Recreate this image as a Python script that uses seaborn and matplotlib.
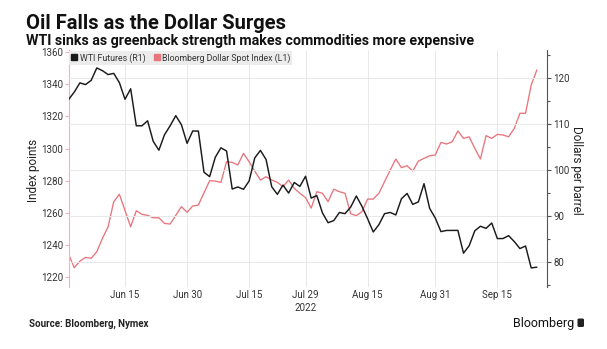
import numpy as np
import pandas as pd
import matplotlib
matplotlib.use("Agg")
import matplotlib.pyplot as plt
import matplotlib.transforms as mtransforms
from matplotlib.lines import Line2D
from matplotlib.patches import FancyBboxPatch
import seaborn as sns

# ---------------- data ----------------
dates = pd.bdate_range("2022-06-01", "2022-09-26")  # weekday axis (84 points)

wti = [115.26, 116.87, 118.87, 118.50, 119.41, 122.11, 121.51, 120.67, 120.93, 118.93,
       115.31, 117.59, 109.56, 109.56, 110.65, 106.19, 104.27, 107.62, 109.57, 111.76,
       109.78, 105.76, 108.43, 108.43, 99.50, 98.53, 102.73, 104.79, 104.09, 95.84,
       96.30, 95.78, 97.59, 102.60, 104.22, 102.26, 96.35, 94.70, 96.70, 94.98,
       97.26, 96.42, 98.62, 93.89, 94.42, 90.66, 88.54, 89.01, 90.76, 90.50,
       91.93, 94.34, 92.09, 89.41, 86.53, 88.11, 90.50, 90.77, 90.23, 93.74,
       94.89, 92.52, 93.06, 97.01, 91.64, 89.55, 86.61, 86.87, 86.87, 86.88,
       81.94, 83.54, 86.79, 87.78, 87.31, 88.48, 85.10, 85.11, 85.73, 84.45,
       82.94, 83.49, 78.74, 78.90]

bbdxy = [1234.3, 1226.0, 1230.1, 1232.4, 1231.8, 1235.9, 1244.2, 1251.4, 1267.0, 1271.6,
         1261.5, 1251.4, 1261.4, 1259.1, 1258.5, 1257.0, 1257.0, 1253.5, 1253.1, 1258.5,
         1263.9, 1260.4, 1264.3, 1264.9, 1272.5, 1280.0, 1279.8, 1279.0, 1291.8, 1291.4,
         1289.8, 1297.0, 1291.8, 1286.0, 1280.4, 1282.5, 1280.5, 1279.0, 1276.3, 1280.4,
         1275.3, 1272.2, 1269.5, 1263.0, 1273.2, 1272.2, 1267.0, 1274.8, 1273.2, 1272.2,
         1259.5, 1258.3, 1260.8, 1268.6, 1268.6, 1272.2, 1279.4, 1286.6, 1293.5, 1288.1,
         1289.3, 1286.0, 1292.2, 1293.9, 1295.5, 1296.0, 1303.8, 1302.8, 1304.2, 1310.9,
         1306.3, 1307.3, 1300.1, 1293.5, 1308.0, 1306.3, 1308.8, 1308.4, 1307.3, 1312.5,
         1321.9, 1321.9, 1339.4, 1348.8]

tick_dates = ["2022-06-15", "2022-06-30", "2022-07-15", "2022-07-29",
              "2022-08-15", "2022-08-31", "2022-09-15"]
tick_labels = ["Jun 15", "Jun 30", "Jul 15", "Jul 29", "Aug 15", "Aug 31", "Sep 15"]
left_ticks = [1220, 1240, 1260, 1280, 1300, 1320, 1340, 1360]
right_ticks = [80, 90, 100, 110, 120]
right_minor = [75, 85, 95, 105, 115, 125]
series_names = ["WTI Futures (R1)", "Bloomberg Dollar Spot Index (L1)"]

# ---------------- style ----------------
RED = "#e8747c"
BLACK = "#1a1a1a"
PINK = "#f0b4b8"
GRID = "#e8e8e8"
TXT = "#333333"

sns.set_theme(style="white")
plt.rcParams["font.family"] = ["Roboto", "DejaVu Sans"]

W, H = 607, 349
fig = plt.figure(figsize=(W / 100, H / 100), dpi=100)
fig.patch.set_facecolor("white")

L, R, T, B = 68.6, 547, 50, 287
ax = fig.add_axes([L / W, 1 - B / H, (R - L) / W, (B - T) / H])

df = pd.DataFrame({"pos": np.arange(len(dates)), "date": dates,
                   "wti": wti, "bbdxy": bbdxy})

sns.lineplot(data=df, x="pos", y="bbdxy", ax=ax, color=RED, lw=0.95)
ax2 = ax.twinx()
sns.lineplot(data=df, x="pos", y="wti", ax=ax2, color=BLACK, lw=1.05)

ax.set_xlim(0, 84.8)
ax.set_ylim(1214, 1361.2)
ax2.set_ylim(74.6, 126.0)

xt = [dates.get_loc(pd.Timestamp(d)) for d in tick_dates]
ax.set_xticks(xt)
ax.set_xticklabels(tick_labels)
ax.tick_params(axis="x", length=0, pad=2.5, labelsize=7, labelcolor=TXT)
ax.xaxis.grid(True, color=GRID, lw=0.7)
ax.yaxis.grid(False)
ax.set_xlabel("")
ax.set_ylabel("")
ax2.set_ylabel("")

ax.set_yticks(left_ticks)
ax.tick_params(axis="y", length=3, width=0.8, color=PINK, labelsize=7,
               labelcolor=TXT, pad=1, left=True)

ax2.set_yticks(right_ticks)
ax2.set_yticks(right_minor, minor=True)
ax2.tick_params(axis="y", which="major", length=3, width=0.8, color="#555555",
                labelsize=7, labelcolor=TXT, pad=1.5, right=True)
ax2.tick_params(axis="y", which="minor", length=2, width=0.8, color="#555555", right=True)
ax2.yaxis.grid(True, color=GRID, lw=0.7)
ax2.xaxis.grid(False)

for s in ["top", "right", "bottom"]:
    ax.spines[s].set_visible(False)
ax.spines["left"].set_color(PINK)
ax.spines["left"].set_linewidth(0.8)
for s in ["top", "left", "bottom"]:
    ax2.spines[s].set_visible(False)
ax2.spines["right"].set_color("#555555")
ax2.spines["right"].set_linewidth(0.8)

# legend
handles = [Line2D([0], [0], marker="s", ls="", color=BLACK, markersize=4),
           Line2D([0], [0], marker="s", ls="", color=RED, markersize=4)]
leg = ax2.legend(handles, series_names, loc="upper left", bbox_to_anchor=(0.0, 1.0),
                 ncol=2, frameon=True, fancybox=False, facecolor="#ececec",
                 edgecolor="none", framealpha=1, fontsize=6.3, handlelength=0.6,
                 handletextpad=0.3, columnspacing=1.0, borderpad=0.25,
                 borderaxespad=0.1, labelcolor=TXT)
leg.set_zorder(1)

# year label
trans = mtransforms.blended_transform_factory(ax.transData, ax.transAxes)
ax.text(xt[3], -0.088, "2022", transform=trans, ha="center", va="center",
        fontsize=7, color=TXT)

# axis titles
fig.text(33 / W, 1 - 170 / H, "Index points", rotation=90, ha="center", va="center",
         fontsize=8.5, color="#222222")
fig.text(577 / W, 1 - 170 / H, "Dollars per barrel", rotation=270, ha="center",
         va="center", fontsize=8.5, color="#222222")

# titles
fig.text(26 / W, 1 - 29 / H, "Oil Falls as the Dollar Surges", fontsize=14.5,
         fontweight="bold", ha="left", va="baseline", color="#111111")
fig.text(26 / W, 1 - 45 / H,
         "WTI sinks as greenback strength makes commodities more expensive",
         fontsize=10.3, fontweight="bold", ha="left", va="baseline", color="#111111")

# footer
fig.text(29 / W, 1 - 327 / H, "Source: Bloomberg, Nymex", fontsize=7,
         fontweight="bold", ha="left", va="baseline", color="#222222")
fig.text(574 / W, 1 - 327 / H, "Bloomberg", fontsize=9, ha="right", va="baseline",
         color="#111111")
fig.patches.append(FancyBboxPatch((577.5 / W, 1 - 327 / H), 6.5 / W, 8.5 / H,
                                  boxstyle="round,pad=0,rounding_size=0.003",
                                  transform=fig.transFigure, facecolor="#222222",
                                  edgecolor="none"))

fig.savefig("out.png", dpi=100)
